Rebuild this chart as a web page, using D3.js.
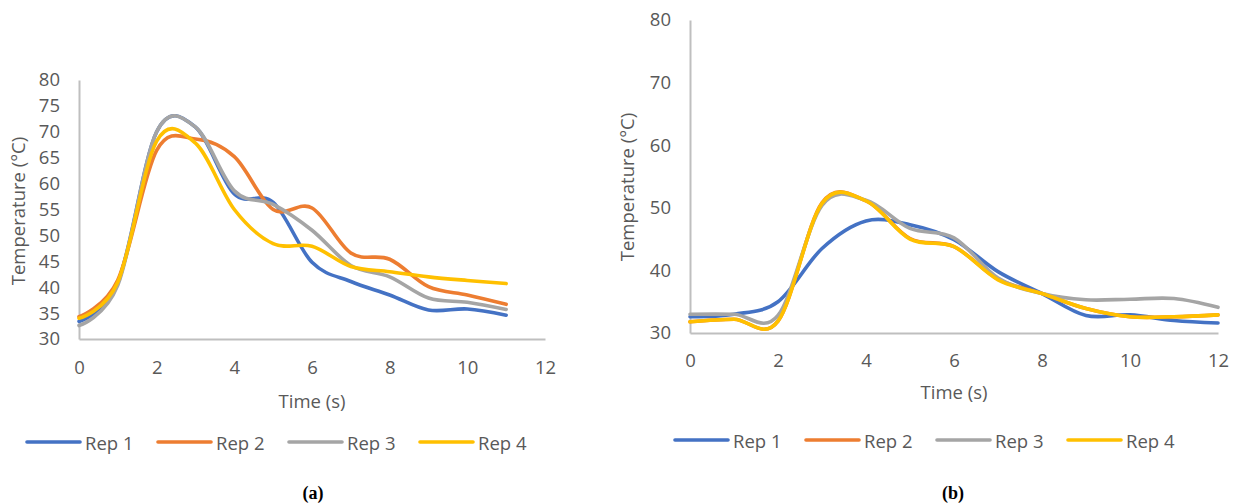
<!DOCTYPE html>
<html>
<head>
<meta charset="utf-8">
<script src="https://cdn.jsdelivr.net/npm/d3@7"></script>
<style>
  body { margin: 0; background: #fff; }
  svg text { font-family: "Open Sans", sans-serif; fill: #595959; }
</style>
</head>
<body>
<svg id="fig" width="1234" height="504"></svg>
<script>
// chart (a): readings every second, 0..11 s
const timeA = [0, 1, 2, 3, 4, 5, 6, 7, 8, 9, 10, 11];
const rep1A = [33.4, 40.8, 70.0, 70.9, 58.0, 56.4, 44.8, 41.1, 38.5, 35.6, 35.8, 34.6];
const rep2A = [34.3, 41.4, 66.4, 68.6, 65.2, 55.0, 55.3, 46.6, 45.4, 40.1, 38.5, 36.7];
const rep3A = [32.6, 40.4, 70.0, 70.9, 58.6, 56.0, 51.0, 44.2, 42.0, 37.9, 37.1, 35.7];
const rep4A = [34.0, 41.0, 68.2, 67.8, 55.0, 48.4, 47.9, 44.0, 43.0, 42.0, 41.3, 40.7];

// chart (b): readings every second, 0..12 s
const timeB = [0, 1, 2, 3, 4, 5, 6, 7, 8, 9, 10, 11, 12];
const rep1B = [32.6, 33.0, 35.0, 43.5, 47.9, 47.3, 44.9, 39.8, 36.3, 32.8, 32.9, 32.0, 31.6];
const rep2B = [31.8, 32.2, 31.9, 50.8, 51.1, 45.1, 43.8, 38.6, 36.3, 33.9, 32.6, 32.6, 32.9];
const rep3B = [33.0, 33.0, 32.8, 50.4, 51.2, 46.7, 45.2, 38.8, 36.3, 35.3, 35.4, 35.5, 34.1];
const rep4B = [31.8, 32.2, 31.9, 50.7, 51.1, 45.0, 43.8, 38.5, 36.3, 33.9, 32.6, 32.6, 32.9];

const seriesNames = ['Rep 1', 'Rep 2', 'Rep 3', 'Rep 4'];
const colors = ['#4472C4', '#ED7D31', '#A5A5A5', '#FFC000'];
const xTicks = [0, 2, 4, 6, 8, 10, 12];
const yTicksA = [30, 35, 40, 45, 50, 55, 60, 65, 70, 75, 80];
const yTicksB = [30, 40, 50, 60, 70, 80];

const svg = d3.select('#fig');

function drawChart(opt) {
  const g = svg.append('g');
  const x = d3.scaleLinear().domain([0, 12]).range([opt.left, opt.right]);
  const y = d3.scaleLinear().domain([30, 80]).range([opt.bottom, opt.top]);

  const yAxis = g.append('g')
    .attr('transform', `translate(${opt.left},0)`)
    .call(d3.axisLeft(y).tickValues(opt.yTicks).tickSize(0).tickSizeOuter(0).tickPadding(19));
  const xAxis = g.append('g')
    .attr('transform', `translate(0,${opt.bottom})`)
    .call(d3.axisBottom(x).tickValues(xTicks).tickSize(0).tickSizeOuter(0).tickPadding(opt.xPad));
  [yAxis, xAxis].forEach(a => {
    a.select('.domain').attr('stroke', '#BFBFBF').attr('stroke-width', 2);
    a.selectAll('text').attr('font-size', 18.5).attr('fill', '#595959')
      .style('font-family', '"Open Sans", sans-serif');
  });

  const line = d3.line()
    .x(d => x(d[0]))
    .y(d => y(d[1]))
    .curve(d3.curveCardinal.tension(0));

  opt.series.forEach((vals, i) => {
    g.append('path')
      .datum(opt.time.map((t, k) => [t, vals[k]]))
      .attr('fill', 'none')
      .attr('stroke', colors[i])
      .attr('stroke-width', 3.6)
      .attr('stroke-linecap', 'round')
      .attr('stroke-linejoin', 'round')
      .attr('d', line);
  });

  // axis titles
  g.append('text')
    .attr('x', (opt.left + opt.right) / 2)
    .attr('y', opt.xTitleY)
    .attr('text-anchor', 'middle')
    .attr('font-size', 18.5)
    .text('Time (s)');
  g.append('text')
    .attr('transform', `translate(${opt.yTitleX},${opt.yTitleY}) rotate(-90)`)
    .attr('text-anchor', 'middle')
    .attr('dominant-baseline', 'central')
    .attr('font-size', 18.5)
    .text('Temperature (°C)');

  // legend
  const leg = g.append('g');
  seriesNames.forEach((name, i) => {
    const lx = opt.legendX + i * 131;
    leg.append('line')
      .attr('x1', lx).attr('x2', lx + 53)
      .attr('y1', opt.legendY).attr('y2', opt.legendY)
      .attr('stroke', colors[i])
      .attr('stroke-width', 3.6)
      .attr('stroke-linecap', 'round');
    leg.append('text')
      .attr('x', lx + 58)
      .attr('y', opt.legendY)
      .attr('dominant-baseline', 'central')
      .attr('font-size', 18.5)
      .text(name);
  });

  // panel label
  g.append('text')
    .attr('x', opt.panelX)
    .attr('y', 499)
    .attr('text-anchor', 'middle')
    .attr('font-size', 18)
    .attr('font-weight', 'bold')
    .style('font-family', '"Liberation Serif", "Times New Roman", serif')
    .style('fill', '#000')
    .text(opt.panel);
}

drawChart({
  time: timeA, series: [rep1A, rep2A, rep3A, rep4A], yTicks: yTicksA,
  left: 79, right: 545, top: 80, bottom: 339, xPad: 22,
  xTitleY: 408, yTitleX: 17, yTitleY: 211,
  legendX: 27, legendY: 442, panelX: 313, panel: '(a)'
});

drawChart({
  time: timeB, series: [rep1B, rep2B, rep3B, rep4B], yTicks: yTicksB,
  left: 690, right: 1218, top: 20, bottom: 333, xPad: 21,
  xTitleY: 399, yTitleX: 626, yTitleY: 187,
  legendX: 675, legendY: 440, panelX: 953, panel: '(b)'
});
</script>
</body>
</html>
